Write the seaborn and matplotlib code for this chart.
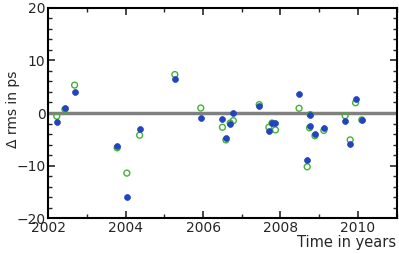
import numpy as np
import pandas as pd
import matplotlib
matplotlib.use("Agg")
import matplotlib.pyplot as plt
import seaborn as sns
from matplotlib.ticker import MultipleLocator

years = [2002.22, 2002.43, 2002.68, 2003.78, 2004.03, 2004.36, 2005.27, 2005.94,
         2006.50, 2006.59, 2006.70, 2006.78, 2007.45, 2007.70, 2007.78, 2007.87,
         2008.48, 2008.69, 2008.75, 2008.77, 2008.89, 2009.12, 2009.67, 2009.80,
         2009.94, 2010.10]
blue_vals = [-1.77, 0.9, 4.0, -6.3, -15.9, -3.1, 6.4, -1.0,
             -1.15, -4.8, -2.1, -0.05, 1.3, -3.35, -1.9, -1.9,
             3.6, -9.0, -2.5, -0.3, -4.0, -2.9, -1.6, -5.8,
             2.6, -1.4]
green_vals = [-0.6, 0.7, 5.3, -6.6, -11.4, -4.2, 7.3, 0.95,
              -2.7, -5.1, -1.9, -1.45, 1.6, -2.7, -1.9, -3.2,
              0.9, -10.2, -2.8, -0.3, -4.3, -3.3, -0.5, -5.1,
              1.95, -1.3]

sns.set_style("ticks")
plt.rcParams['font.family'] = ['DejaVu Sans']

df = pd.DataFrame({"year": years, "blue": blue_vals, "green": green_vals})

fig = plt.figure(figsize=(3.99, 2.54), dpi=100)
ax = fig.add_axes([0.121, 0.140, 0.873, 0.830])

ax.axhline(0, color="#808080", lw=2.5, zorder=1)
sns.scatterplot(data=df, x="year", y="green", ax=ax, marker="o", s=18,
                facecolor="none", edgecolor="#44b035", linewidth=1.0, zorder=2)
sns.scatterplot(data=df, x="year", y="blue", ax=ax, marker="o", s=18,
                color="#2244c0", edgecolor="#2244c0", linewidth=0.5, zorder=3)

ax.set_xlim(2002, 2011)
ax.set_ylim(-20, 20)
ax.xaxis.set_major_locator(MultipleLocator(2))
ax.xaxis.set_minor_locator(MultipleLocator(1))
ax.yaxis.set_major_locator(MultipleLocator(10))
ax.yaxis.set_minor_locator(MultipleLocator(2))
ax.tick_params(which="both", direction="in", top=True, right=True, labelsize=10, pad=2)
ax.tick_params(which="major", length=5, width=1.2)
ax.tick_params(which="minor", length=3, width=1.0)
for sp in ax.spines.values():
    sp.set_linewidth(1.5)
    sp.set_color("black")

ax.set_xlabel("Time in years", fontsize=10.5, loc="right", labelpad=0)
ax.set_ylabel("Δ rms in ps", fontsize=10)
ax.yaxis.set_label_coords(-0.08, 0.52)

fig.savefig("out.png", dpi=100)
